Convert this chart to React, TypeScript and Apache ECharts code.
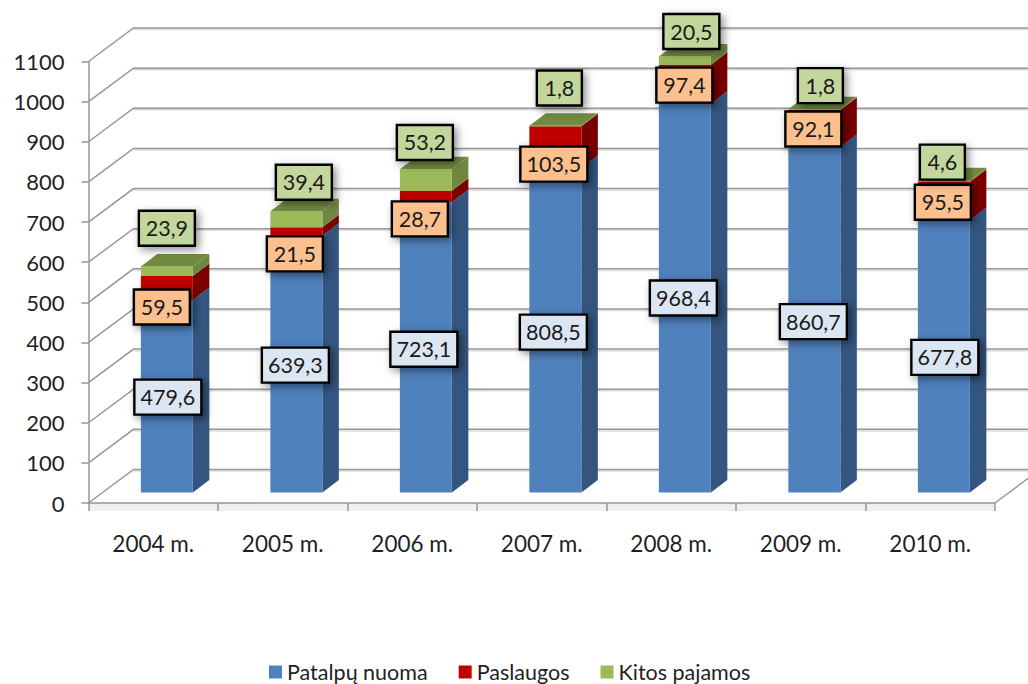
import React, { useEffect, useRef } from "react";
import * as echarts from "echarts";

const categories = ["2004 m.", "2005 m.", "2006 m.", "2007 m.", "2008 m.", "2009 m.", "2010 m."];
const patalpuNuoma = [479.6, 639.3, 723.1, 808.5, 968.4, 860.7, 677.8];
const paslaugos = [59.5, 21.5, 28.7, 103.5, 97.4, 92.1, 95.5];
const kitosPajamos = [23.9, 39.4, 53.2, 1.8, 20.5, 1.8, 4.6];
const gridTicks = [0, 100, 200, 300, 400, 500, 600, 700, 800, 900, 1000, 1100];

// Label nudges (px) from the centre of each segment's front face
const blueShift = [[1, 1], [-1, 1], [-2, 2], [-2, 2], [-1.5, 0], [-1, 2], [1, 1]];
const redShift = [[-5, 19], [-1.5, 22.4], [-6, 22.5], [-1.5, 17], [-0.5, 1], [-1, 0.5], [-1, 1]];
const greenShift = [[0, -43], [7.5, -37], [-1, -37.5], [4, -38], [6.5, -29], [6, -24], [-1.5, -19]];

const FONT = "Lato, Carlito, sans-serif";
const WALL_DX = 45, WALL_DY = 33.5;
const BAR_DX0 = 13.6, BAR_DY0 = 10.6;
const BAR_W = 52, BAR_DX = 16.5, BAR_DY = 12.5;
const LINE = "#979797";

const poly = (points: number[][], fill: string, z2 = 0) => ({
  type: "polygon", z2, shape: { points }, style: { fill, stroke: null }, silent: true,
});

function barSeries(name: string, values: number[], below: number[], front: string, side: string, top: string, isTop: boolean) {
  return {
    name, type: "custom", z: 3, silent: true,
    itemStyle: { color: front },
    encode: { x: 0, y: 2 },
    data: values.map((v, i) => [i, below[i], below[i] + v]),
    renderItem: (_p: any, api: any) => {
      const c0 = api.coord([api.value(0), api.value(1)]);
      const c1 = api.coord([api.value(0), api.value(2)]);
      const x0 = c0[0] + BAR_DX0 - BAR_W / 2, x1 = x0 + BAR_W;
      const yb = c0[1] - BAR_DY0, yt = c1[1] - BAR_DY0;
      const children: any[] = [
        poly([[x1, yb], [x1 + BAR_DX, yb - BAR_DY], [x1 + BAR_DX, yt - BAR_DY], [x1, yt]], side),
        poly([[x0, yb], [x1, yb], [x1, yt], [x0, yt]], front),
      ];
      if (isTop) children.push(poly([[x0, yt], [x1, yt], [x1 + BAR_DX, yt - BAR_DY], [x0 + BAR_DX, yt - BAR_DY]], top));
      return { type: "group", children };
    },
  };
}

function labelSeries(values: number[], below: number[], shift: number[][], fill: string, z: number) {
  return {
    type: "custom", z, silent: true,
    encode: { x: 0, y: 2 },
    data: values.map((v, i) => [i, below[i], below[i] + v, v]),
    renderItem: (_p: any, api: any) => {
      const i = api.value(0);
      const c = api.coord([i, (api.value(1) + api.value(2)) / 2]);
      const cx = c[0] + BAR_DX0 + shift[i][0];
      const cy = c[1] - BAR_DY0 + shift[i][1];
      const text = api.value(3).toFixed(1).replace(".", ",");
      const w = text.length >= 5 ? 67 : text.length === 4 ? 56 : 45;
      const h = 35;
      return {
        type: "group",
        children: [
          {
            type: "rect",
            shape: { x: cx - w / 2, y: cy - h / 2, width: w, height: h },
            style: {
              fill, stroke: "#000", lineWidth: 2.4,
              shadowBlur: 8, shadowColor: "rgba(0,0,0,0.45)", shadowOffsetX: 3, shadowOffsetY: 3,
            },
          },
          {
            type: "text", z2: 5,
            style: { x: cx, y: cy, text, align: "center", verticalAlign: "middle", fill: "#1a1a1a", font: `21.5px ${FONT}` },
          },
        ],
      };
    },
  };
}

export default function App() {
  const ref = useRef<HTMLDivElement>(null);
  useEffect(() => {
    document.body.style.margin = "0";
    const chart = echarts.init(ref.current!, null, { renderer: "svg" });
    const redBelow = patalpuNuoma;
    const greenBelow = patalpuNuoma.map((v, i) => v + paslaugos[i]);
    const zeros = patalpuNuoma.map(() => 0);
    chart.setOption({
      animation: false,
      backgroundColor: "#fff",
      textStyle: { fontFamily: FONT },
      grid: { left: 88.5, right: 33, top: 61.5, bottom: 181, containLabel: false },
      legend: {
        left: 269, top: 661, padding: 0, itemWidth: 13, itemHeight: 13, itemGap: 31, icon: "rect",
        data: ["Patalpų nuoma", "Paslaugos", "Kitos pajamos"],
        selectedMode: false,
        textStyle: { fontFamily: FONT, fontSize: 21.5, color: "#1f1f1f" },
      },
      xAxis: {
        type: "category", data: categories,
        axisLine: { lineStyle: { color: LINE, width: 1.5 } },
        axisTick: { show: true, length: 8, alignWithLabel: false, lineStyle: { color: LINE, width: 1.5 } },
        axisLabel: { margin: 29, fontFamily: FONT, fontSize: 22.5, color: "#1f1f1f" },
      },
      yAxis: {
        type: "value", min: 0, max: 1100, interval: 100,
        splitLine: { show: false },
        axisLine: { show: true, lineStyle: { color: LINE, width: 1.5 } },
        axisTick: { show: true, length: 7, lineStyle: { color: LINE, width: 1.5 } },
        axisLabel: { margin: 24, fontFamily: FONT, fontSize: 22, color: "#1f1f1f", formatter: (v: number) => String(v) },
      },
      series: [
        {
          type: "custom", z: -1, silent: true,
          encode: { y: 0 },
          data: gridTicks.map((t) => [t]),
          renderItem: (p: any, api: any) => {
            const y = api.coord([0, api.value(0)])[1];
            const left = p.coordSys.x, right = left + p.coordSys.width;
            const children: any[] = [
              {
                type: "line",
                shape: { x1: left + WALL_DX, y1: y - WALL_DY + 1.6, x2: 1030, y2: y - WALL_DY + 1.6 },
                style: { stroke: "#dcdcdc", lineWidth: 1.5 },
              },
              {
                type: "polyline",
                shape: { points: [[left, y], [left + WALL_DX, y - WALL_DY], [1030, y - WALL_DY]] },
                style: { stroke: LINE, lineWidth: 1.5, fill: null },
              },
            ];
            if (api.value(0) === 0) {
              children.push({
                type: "rect",
                shape: { x: left, y, width: right - left, height: 8 },
                style: { fill: "#efefef" },
              });
              children.push({
                type: "line",
                shape: { x1: right, y1: y, x2: right + WALL_DX, y2: y - WALL_DY },
                style: { stroke: LINE, lineWidth: 1.5 },
              });
            }
            return { type: "group", children };
          },
        },
        barSeries("Patalpų nuoma", patalpuNuoma, zeros, "#4F81BD", "#34557F", "#3E6797", false),
        barSeries("Paslaugos", paslaugos, redBelow, "#C00000", "#7A0000", "#900000", false),
        barSeries("Kitos pajamos", kitosPajamos, greenBelow, "#9BBB59", "#6F8840", "#728A3F", true),
        labelSeries(patalpuNuoma, zeros, blueShift, "#DCE6F2", 5),
        labelSeries(paslaugos, redBelow, redShift, "#FCBF8E", 5),
        labelSeries(kitosPajamos, greenBelow, greenShift, "#C3D69B", 5),
      ],
    });
    return () => chart.dispose();
  }, []);
  return <div ref={ref} style={{ position: "fixed", left: 0, top: 0, width: 1028, height: 684 }} />;
}
